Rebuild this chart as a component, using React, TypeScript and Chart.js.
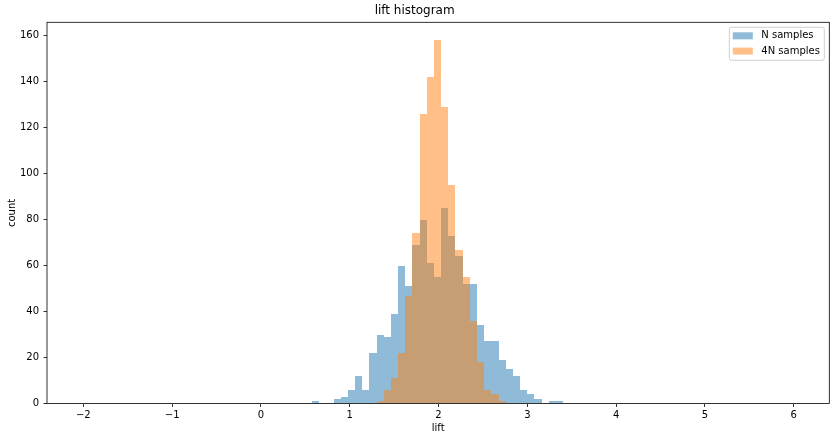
import React, { useEffect, useRef } from "react";
import { Chart, registerables } from "chart.js";

Chart.register(...registerables);

// histogram bins (centres), shared by both series
const binCenters = [
  0.6159, 0.6967, 0.7774, 0.8582, 0.9389, 1.0197, 1.1005, 1.1812, 1.262, 1.3427,
  1.4235, 1.5043, 1.585, 1.6658, 1.7465, 1.8273, 1.9081, 1.9888, 2.0696, 2.1503,
  2.2311, 2.3119, 2.3926, 2.4734, 2.5541, 2.6349, 2.7157, 2.7964, 2.8772, 2.9579,
  3.0387, 3.1195, 3.2002, 3.281, 3.3617
];

const nSamples = [
  1, 0, 0, 2, 3, 6, 12, 6, 22, 30,
  29, 39, 60, 51, 69, 80, 61, 55, 85, 73,
  64, 52, 52, 34, 27, 27, 19, 15, 12, 6,
  4, 2, 0, 1, 1
];

const fourNSamples = [
  0, 0, 0, 0, 0, 0, 0, 0, 0, 1,
  6, 11, 22, 47, 74, 126, 142, 158, 129, 95,
  67, 55, 36, 18, 6, 4, 1, 0, 0, 0,
  0, 0, 0, 0, 0
];

const xTicks = [-2, -1, 0, 1, 2, 3, 4, 5, 6];
const yTicks = [0, 20, 40, 60, 80, 100, 120, 140, 160];

const seriesNames = ["N samples", "4N samples"];
const seriesColors = ["rgba(31,119,180,0.5)", "rgba(255,127,14,0.5)"];

const FONT = "DejaVu Sans";

// snap bar edges to whole pixels, like matplotlib does, so neighbours don't leave seams
const snapPlugin = {
  id: "snap",
  beforeDatasetsDraw(chart: any) {
    chart.data.datasets.forEach((_: any, i: number) => {
      chart.getDatasetMeta(i).data.forEach((bar: any) => {
        const l = Math.round(bar.x - bar.width / 2);
        const r = Math.round(bar.x + bar.width / 2);
        bar.x = (l + r) / 2;
        bar.width = r - l;
        bar.y = Math.round(bar.y);
        bar.base = Math.round(bar.base);
      });
    });
  }
};

const framePlugin = {
  id: "frame",
  afterDatasetsDraw(chart: any) {
    const { ctx, chartArea } = chart;
    ctx.save();
    ctx.strokeStyle = "#000";
    ctx.lineWidth = 0.8;
    ctx.strokeRect(chartArea.left, chartArea.top, chartArea.right - chartArea.left, chartArea.bottom - chartArea.top);

    // legend, matplotlib style
    const bx = chartArea.right - 100;
    const by = chartArea.top + 5;
    const bw = 95;
    const bh = 33;
    ctx.beginPath();
    ctx.roundRect(bx, by, bw, bh, 2);
    ctx.fillStyle = "rgba(255,255,255,0.8)";
    ctx.fill();
    ctx.strokeStyle = "#d0d0d0";
    ctx.lineWidth = 1;
    ctx.stroke();
    ctx.font = `10px "${FONT}"`;
    ctx.textBaseline = "middle";
    seriesNames.forEach((name, i) => {
      const y = by + 8.5 + i * 15.3;
      ctx.fillStyle = seriesColors[i];
      ctx.fillRect(bx + 3.5, y - 3.5, 20, 7);
      ctx.fillStyle = "#000";
      ctx.fillText(name, bx + 32, y);
    });
    ctx.restore();
  }
};

const App: React.FC = () => {
  const chartRef = useRef<HTMLCanvasElement>(null);
  const chartInstance = useRef<Chart>();

  useEffect(() => {
    document.body.style.margin = "0";
    if (chartRef.current) {
      const ctx = chartRef.current.getContext("2d");
      if (ctx) {
        if (chartInstance.current) {
          chartInstance.current.destroy();
        }
        chartInstance.current = new Chart(ctx, {
          type: "bar",
          data: {
            datasets: [
              {
                label: seriesNames[0],
                data: binCenters.map((x, i) => ({ x, y: nSamples[i] })),
                backgroundColor: seriesColors[0],
                borderWidth: 0,
                order: 1
              },
              {
                label: seriesNames[1],
                data: binCenters.map((x, i) => ({ x, y: fourNSamples[i] })),
                backgroundColor: seriesColors[1],
                borderWidth: 0,
                order: 0
              }
            ]
          },
          options: {
            animation: false,
            responsive: true,
            maintainAspectRatio: false,
            events: [],
            layout: { padding: { left: 0, right: 5.7, top: 0, bottom: 0 } },
            datasets: {
              bar: {
                barPercentage: 1,
                categoryPercentage: 1,
                grouped: false,
                inflateAmount: 0
              }
            },
            plugins: {
              legend: { display: false },
              tooltip: { enabled: false },
              title: {
                display: true,
                text: "lift histogram",
                color: "#000",
                font: { family: FONT, size: 12, weight: "normal" },
                padding: { top: 4, bottom: 3.9 }
              }
            },
            scales: {
              x: {
                type: "linear",
                min: -2.409,
                max: 6.4,
                offset: false,
                afterFit: (axis: any) => {
                  axis.height = 37.5;
                },
                afterBuildTicks: (axis: any) => {
                  axis.ticks = xTicks.map((v) => ({ value: v }));
                },
                ticks: {
                  color: "#000",
                  font: { family: FONT, size: 10 },
                  padding: 2,
                  maxRotation: 0,
                  callback: (v: any) => String(v).replace("-", "\u2212")
                },
                grid: {
                  display: true,
                  offset: false,
                  drawOnChartArea: false,
                  drawTicks: true,
                  tickLength: 3.5,
                  color: "#000",
                  lineWidth: 0.8
                },
                border: { display: false },
                title: {
                  display: true,
                  text: "lift",
                  color: "#000",
                  font: { family: FONT, size: 10 },
                  padding: { top: 0, bottom: 6.5 }
                }
              },
              y: {
                min: 0,
                max: 165.9,
                afterFit: (axis: any) => {
                  axis.width = 47;
                },
                afterBuildTicks: (axis: any) => {
                  axis.ticks = yTicks.map((v) => ({ value: v }));
                },
                ticks: {
                  color: "#000",
                  font: { family: FONT, size: 10 },
                  padding: 4.5
                },
                grid: {
                  display: true,
                  drawOnChartArea: false,
                  drawTicks: true,
                  tickLength: 3.5,
                  color: "#000",
                  lineWidth: 0.8
                },
                border: { display: false },
                title: {
                  display: true,
                  text: "count",
                  color: "#000",
                  font: { family: FONT, size: 10 },
                  padding: { top: 6.7, bottom: 0 }
                }
              }
            }
          },
          plugins: [snapPlugin, framePlugin]
        });
      }
    }
    return () => {
      if (chartInstance.current) {
        chartInstance.current.destroy();
      }
    };
  }, []);

  return (
    <div style={{ position: "relative", width: 835, height: 441 }}>
      <canvas ref={chartRef} />
    </div>
  );
};

export default App;
